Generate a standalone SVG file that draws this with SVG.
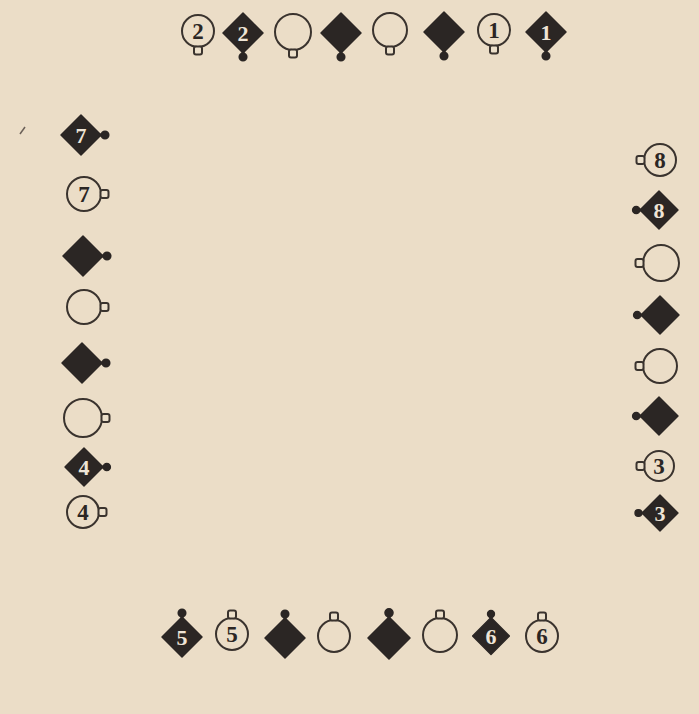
<svg xmlns="http://www.w3.org/2000/svg" xmlns:xlink="http://www.w3.org/1999/xlink" width="699" height="714" viewBox="0 0 699 714">
<style>
.ink{fill:#2b2624;stroke:#2b2624;stroke-width:1.5;stroke-linejoin:round}
.stem{stroke:#2b2624;stroke-width:3}
.ring{fill:none;stroke:#3a332e;stroke-width:2}
.loopc{fill:#ece0cb;stroke:#3a332e;stroke-width:2}
.nc{font-family:"Liberation Serif","DejaVu Serif",serif;font-size:23px;font-weight:bold;fill:#2b2624;text-anchor:middle}
.nd{font-family:"Liberation Serif","DejaVu Serif",serif;font-size:22px;font-weight:bold;fill:#eee4d6;text-anchor:middle}
</style>
<defs>
<g id="dia">
<path class="ink" d="M0,-20 L20,0 L0,20 L-20,0 Z"/>
<line class="stem" x1="0" y1="18" x2="0" y2="23"/>
<circle class="ink" cx="0" cy="24" r="3.8"/>
</g>
<rect id="loop" class="loopc" x="-4" y="-1.5" width="8" height="8" rx="2"/>
</defs>
<rect width="699" height="714" fill="#ebddc7"/>
<line x1="20" y1="134" x2="25" y2="127" stroke="#6b6058" stroke-width="1.5"/>

<g id="top">
<g id="c2"><circle class="ring" cx="198" cy="31" r="16"/><use xlink:href="#loop" transform="translate(198,31) rotate(0) translate(0,17)"/><text class="nc" x="198" y="39">2</text></g>
<g id="d2"><use xlink:href="#dia" transform="translate(243,33)"/><text class="nd" x="243" y="41">2</text></g>
<g id="t3"><circle class="ring" cx="293" cy="32" r="18"/><use xlink:href="#loop" transform="translate(293,32) rotate(0) translate(0,19)"/></g>
<g id="t4"><use xlink:href="#dia" transform="translate(341,33)"/></g>
<g id="t5"><circle class="ring" cx="390" cy="30" r="17"/><use xlink:href="#loop" transform="translate(390,30) rotate(0) translate(0,18)"/></g>
<g id="t6"><use xlink:href="#dia" transform="translate(444,32)"/></g>
<g id="c1"><circle class="ring" cx="494" cy="30" r="16"/><use xlink:href="#loop" transform="translate(494,30) rotate(0) translate(0,17)"/><text class="nc" x="494" y="38">1</text></g>
<g id="d1"><use xlink:href="#dia" transform="translate(546,32)"/><text class="nd" x="546" y="40">1</text></g>
</g>

<g id="left">
<g id="d7"><use xlink:href="#dia" transform="translate(81,135) rotate(-90)"/><text class="nd" x="81" y="143">7</text></g>
<g id="c7"><circle class="ring" cx="84" cy="194" r="17"/><use xlink:href="#loop" transform="translate(84,194) rotate(-90) translate(0,18)"/><text class="nc" x="84" y="202">7</text></g>
<g id="l3"><use xlink:href="#dia" transform="translate(83,256) rotate(-90)"/></g>
<g id="l4"><circle class="ring" cx="84" cy="307" r="17"/><use xlink:href="#loop" transform="translate(84,307) rotate(-90) translate(0,18)"/></g>
<g id="l5"><use xlink:href="#dia" transform="translate(82,363) rotate(-90)"/></g>
<g id="l6"><circle class="ring" cx="83" cy="418" r="19"/><use xlink:href="#loop" transform="translate(83,418) rotate(-90) translate(0,20)"/></g>
<g id="d4"><use xlink:href="#dia" transform="translate(84,467) rotate(-90) scale(0.95)"/><text class="nd" x="84" y="475">4</text></g>
<g id="c4"><circle class="ring" cx="83" cy="512" r="16"/><use xlink:href="#loop" transform="translate(83,512) rotate(-90) translate(0,17)"/><text class="nc" x="83" y="520">4</text></g>
</g>

<g id="right">
<g id="c8"><circle class="ring" cx="660" cy="160" r="16"/><use xlink:href="#loop" transform="translate(660,160) rotate(90) translate(0,17)"/><text class="nc" x="660" y="168">8</text></g>
<g id="d8"><use xlink:href="#dia" transform="translate(659,210) rotate(90) scale(0.95)"/><text class="nd" x="659" y="218">8</text></g>
<g id="r3"><circle class="ring" cx="661" cy="263" r="18"/><use xlink:href="#loop" transform="translate(661,263) rotate(90) translate(0,19)"/></g>
<g id="r4"><use xlink:href="#dia" transform="translate(660,315) rotate(90) scale(0.95)"/></g>
<g id="r5"><circle class="ring" cx="660" cy="366" r="17"/><use xlink:href="#loop" transform="translate(660,366) rotate(90) translate(0,18)"/></g>
<g id="r6"><use xlink:href="#dia" transform="translate(659,416) rotate(90) scale(0.95)"/></g>
<g id="c3"><circle class="ring" cx="659" cy="466" r="15"/><use xlink:href="#loop" transform="translate(659,466) rotate(90) translate(0,16)"/><text class="nc" x="659" y="474">3</text></g>
<g id="d3"><use xlink:href="#dia" transform="translate(660,513) rotate(90) scale(0.9)"/><text class="nd" x="660" y="521">3</text></g>
</g>

<g id="bottom">
<g id="d5"><use xlink:href="#dia" transform="translate(182,637) rotate(180)"/><text class="nd" x="182" y="645">5</text></g>
<g id="c5"><circle class="ring" cx="232" cy="634" r="16"/><use xlink:href="#loop" transform="translate(232,634) rotate(180) translate(0,17)"/><text class="nc" x="232" y="642">5</text></g>
<g id="b3"><use xlink:href="#dia" transform="translate(285,638) rotate(180)"/></g>
<g id="b4"><circle class="ring" cx="334" cy="636" r="16"/><use xlink:href="#loop" transform="translate(334,636) rotate(180) translate(0,17)"/></g>
<g id="b5"><use xlink:href="#dia" transform="translate(389,638) rotate(180) scale(1.05)"/></g>
<g id="b6"><circle class="ring" cx="440" cy="635" r="17"/><use xlink:href="#loop" transform="translate(440,635) rotate(180) translate(0,18)"/></g>
<g id="d6"><use xlink:href="#dia" transform="translate(491,636) rotate(180) scale(0.92)"/><text class="nd" x="491" y="644">6</text></g>
<g id="c6"><circle class="ring" cx="542" cy="636" r="16"/><use xlink:href="#loop" transform="translate(542,636) rotate(180) translate(0,17)"/><text class="nc" x="542" y="644">6</text></g>
</g>
</svg>
